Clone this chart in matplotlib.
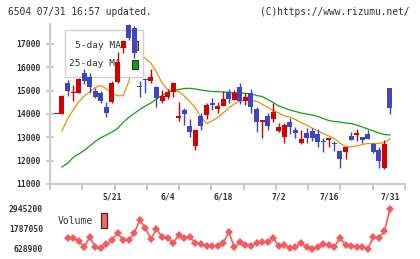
import numpy as np
import matplotlib
matplotlib.use('Agg')
import matplotlib.pyplot as plt
from matplotlib.patches import Rectangle

# ---------------- data ----------------
dates = (['5/%d' % d for d in [7, 8, 9, 10, 13, 14, 15, 16, 17, 20, 21, 22, 23, 24, 27, 28, 29, 30, 31]] +
         ['6/%d' % d for d in [3, 4, 5, 6, 7, 10, 11, 12, 13, 14, 17, 18, 19, 20, 21, 24, 25, 26, 27, 28]] +
         ['7/%d' % d for d in [1, 2, 3, 4, 5, 8, 9, 10, 11, 12, 16, 17, 18, 19, 22, 23, 24, 25, 26, 29, 30, 31]])

opens = [14000, 14000, 15340, 14900, 14910, 15770, 15600, 14990, 14910, 14310,
         14530, 15380, 16820, 17800, 17670, 15200, 15480, 15430, 15170, 14570,
         14740, 14960, 13840, 14170, 13490, 12630, 13930, 13960, 14450, 14210,
         14360, 14930, 14600, 15170, 14570, 14910, 14200, 13670, 13910, 13790,
         13280, 13000, 13670, 13330, 12740, 13200, 13270, 13130, 12810, 12890,
         12770, 12410, 12390, 13060, 13100, 13030, 13140, 12700, 12460, 11690,
         15130]
highs = [14020, 14800, 15460, 15250, 15560, 15910, 15760, 15100, 15000, 14500,
         15410, 16670, 17160, 17850, 17780, 15430, 15540, 15910, 15200, 15030,
         15060, 15380, 14530, 14240, 13770, 13310, 14030, 14460, 14700, 14530,
         15000, 15060, 15030, 15320, 14890, 15050, 14310, 13740, 14060, 14480,
         13600, 13610, 13820, 13460, 13310, 13390, 13390, 13340, 12960, 12990,
         12860, 12460, 12600, 13240, 13340, 13030, 13310, 12740, 12600, 12890,
         15130]
lows = [14000, 14000, 14750, 14560, 14880, 15290, 14900, 14670, 14470, 13880,
        14460, 15310, 16610, 17150, 16400, 14710, 14900, 15310, 14290, 14460,
        14630, 14720, 13710, 13530, 13030, 12460, 13310, 13790, 14170, 14060,
        14360, 14460, 14600, 14420, 14390, 14050, 13240, 12960, 13320, 13640,
        13240, 12740, 13130, 12960, 12710, 12770, 12860, 12600, 12390, 12570,
        12430, 11670, 12070, 12890, 12860, 12770, 12920, 12310, 11670, 11630,
        13990]
closes = [14020, 14790, 15000, 14950, 15490, 15430, 15140, 14720, 14560, 14060,
          15340, 16240, 17140, 17240, 16600, 15170, 15440, 15600, 14670, 14770,
          14930, 15320, 13910, 13990, 13240, 13310, 13490, 14390, 14400, 14360,
          14640, 14640, 14890, 14570, 14720, 14290, 13670, 13740, 13490, 14100,
          13460, 13530, 13460, 13200, 12930, 12960, 12990, 12810, 12790, 12990,
          12710, 12060, 12570, 12890, 13200, 12890, 12920, 12390, 12000, 12710,
          14270]

nan = np.nan
ma5 = [nan, 13271, 13786, 14171, 14514, 14771, 14943, 15136, 15221, 15071,
       14879, 14784, 14784, 15371, 16314, 16614, 16379, 16186, 15800, 15329,
       15050, 15000, 14964, 14771, 14536, 14257, 13871, 13593, 13700, 13850,
       14043, 14257, 14429, 14557, 14579, 14600, 14536, 14429, 14279, 14150,
       14043, 13914, 13871, 13764, 13636, 13529, 13400, 13271, 13164, 13057,
       12950, 12757, 12607, 12586, 12629, 12693, 12736, 12736, 12736, 12779,
       12929]
ma25 = [nan, 11729, 11879, 12136, 12286, 12436, 12629, 12821, 12989, 13100,
        13229, 13379, 13636, 13850, 14021, 14193, 14343, 14471, 14643, 14793,
        14921, 15007, 15050, 15093, 15101, 15071, 15029, 14994, 14964, 14956,
        14943, 14930, 14913, 14900, 14887, 14866, 14793, 14750, 14621, 14493,
        14343, 14257, 14171, 14107, 14043, 14000, 13957, 13893, 13807, 13721,
        13679, 13657, 13614, 13593, 13529, 13443, 13357, 13271, 13186, 13121,
        13100]

volume = [nan, nan, 1270000, 1270000, 1090000, 745000, 1320000, 745000, 690000, 920000,
          1150000, 1550000, 1150000, 1150000, 1550000, 2310000, 1840000, 1210000, 1790000, 1320000,
          1270000, 980000, 1440000, 1270000, 1320000, 980000, 920000, 800000, 800000, 800000,
          980000, 1610000, 745000, 1030000, 860000, 800000, 980000, 1030000, 1030000, 1270000,
          800000, 860000, 690000, 745000, 980000, 745000, 628900, 745000, 920000, 860000,
          745000, 1270000, 860000, 800000, 745000, 745000, 628900, 1320000, 1270000, 1670000,
          2945200]

date_labels = ['5/21', '6/4', '6/18', '7/2', '7/16', '7/31']
price_ticks = [11000, 12000, 13000, 14000, 15000, 16000, 17000]
vol_ticks = [628900, 1787050, 2945200]
ma_labels = ['5-day MA', '25-day MA']

# ---------------- style ----------------
W, H = 420, 259
UP = '#d40000'
DOWN = '#3f46c0'
C_MA5 = '#f0900a'
C_MA25 = '#12a012'
C_VOL = '#f55a5e'
C_AX = '#cccccc'
C_TXT = '#333333'
FONT = 'DejaVu Sans Mono'

plt.rcParams['font.family'] = [FONT]

fig = plt.figure(figsize=(W / 100, H / 100), dpi=100)
fig.patch.set_facecolor('white')


def fx(px):
    return px / W


def fy(py):
    return 1 - py / H


x = np.arange(len(dates))
xl = (-1.151, 62.70)

# ---------------- main price axes ----------------
ax = fig.add_axes([fx(50), fy(184), fx(405) - fx(50), fy(24) - fy(184)])
ax.set_xlim(*xl)
ax.set_ylim(11000, 17857)
for s in ['top', 'right']:
    ax.spines[s].set_visible(False)
for s in ['left', 'bottom']:
    ax.spines[s].set_color(C_AX)
    ax.spines[s].set_linewidth(1.5)

ax.set_yticks(price_ticks)
ax.set_yticklabels([str(v) for v in price_ticks], fontweight='bold')
ax.set_xticks(np.linspace(xl[0], xl[1], 12))
ax.set_xticklabels([])
ax.tick_params(axis='y', direction='inout', length=6, width=1.5, color=C_AX,
               labelsize=5.8, labelcolor=C_TXT, pad=3.5)
ax.tick_params(axis='x', direction='out', length=4.5, width=1.5, color=C_AX)

for lbl in date_labels:
    ax.text(dates.index(lbl), -(197 - 184) / 160, lbl, transform=ax.get_xaxis_transform(),
            ha='center', va='center', fontsize=5.8, color=C_TXT, fontweight='bold')

# moving averages
ax.plot(x, ma5, color=C_MA5, lw=0.9, zorder=2)
ax.plot(x, ma25, color=C_MA25, lw=0.9, zorder=2)

# legend box (drawn above lines, below candles)
ax.add_patch(Rectangle((fx(65), fy(77)), fx(143) - fx(65), fy(30) - fy(77),
                       transform=fig.transFigure, facecolor='white', alpha=0.9,
                       edgecolor=C_AX, lw=1.0, zorder=3, clip_on=False))
ax.text(fx(121), fy(46), ma_labels[0], transform=fig.transFigure, ha='right', va='center',
        fontsize=6.8, color=C_TXT, zorder=3.2)
ax.text(fx(121), fy(63.5), ma_labels[1], transform=fig.transFigure, ha='right', va='center',
        fontsize=6.8, color=C_TXT, zorder=3.2)
ax.add_patch(Rectangle((fx(132), fy(50)), fx(6), 9 / H, transform=fig.transFigure,
                       facecolor=C_MA5, edgecolor='#333333', lw=0.8, zorder=3.2, clip_on=False))
ax.add_patch(Rectangle((fx(132), fy(69)), fx(6), 9 / H, transform=fig.transFigure,
                       facecolor=C_MA25, edgecolor='#333333', lw=0.8, zorder=3.2, clip_on=False))

# candles
o = np.array(opens, float)
c = np.array(closes, float)
hi = np.array(highs, float)
lo = np.array(lows, float)
cols = [UP if cc >= oo else DOWN for oo, cc in zip(o, c)]
ax.vlines(x, lo, hi, colors=cols, lw=1.0, zorder=4)
bottoms = np.minimum(o, c)
heights = np.maximum(np.abs(c - o), 45)
ax.bar(x, heights, bottom=bottoms, width=0.9, color=cols, linewidth=0, zorder=4.5)

# ---------------- volume axes ----------------
av = fig.add_axes([fx(50), fy(249), fx(405) - fx(50), fy(209) - fy(249)])
av.set_xlim(*xl)
av.set_ylim(vol_ticks[0], vol_ticks[-1])
for s in av.spines.values():
    s.set_visible(False)
av.set_xticks([])
av.set_yticks(vol_ticks)
av.set_yticklabels([str(v) for v in vol_ticks], fontweight='bold')
av.tick_params(axis='y', length=0, labelsize=5.8, labelcolor=C_TXT, pad=5)
av.plot(x, volume, color=C_VOL, lw=1.2, marker='D', markersize=3.8,
        markeredgewidth=0, clip_on=False)

fig.text(fx(58), fy(221), 'Volume', ha='left', va='center', fontsize=7, color=C_TXT)
fig.patches.append(Rectangle((fx(101), fy(228)), fx(6), 15 / H, transform=fig.transFigure,
                             facecolor='#ff6464', edgecolor='#333333', lw=0.9))

# ---------------- header ----------------
fig.text(fx(8), fy(12), '6504 07/31 16:57 updated.', ha='left', va='center',
         fontsize=6.9, color=C_TXT)
fig.text(fx(410), fy(12), '(C)https://www.rizumu.net/', ha='right', va='center',
         fontsize=6.9, color=C_TXT)

fig.savefig('out.png', dpi=100, facecolor='white')
